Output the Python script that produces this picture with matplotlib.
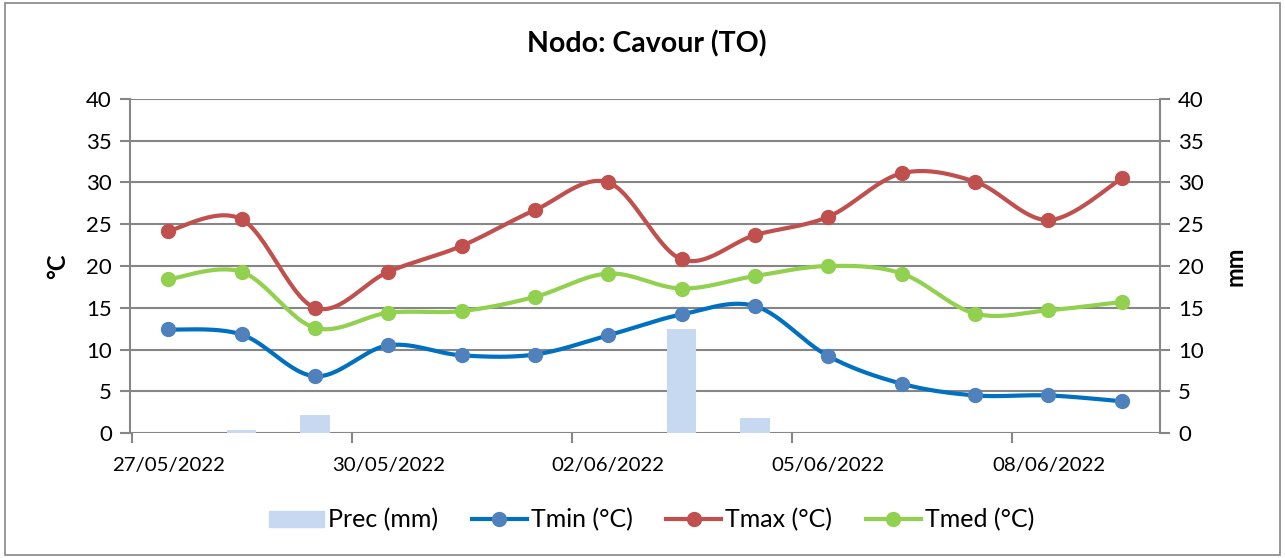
import numpy as np
import matplotlib
matplotlib.use('Agg')
import matplotlib.pyplot as plt
from matplotlib.patches import Rectangle
from matplotlib.lines import Line2D

plt.rcParams['font.family'] = ['Lato', 'DejaVu Sans']

dates = ['27/05/2022', '28/05/2022', '29/05/2022', '30/05/2022', '31/05/2022',
         '01/06/2022', '02/06/2022', '03/06/2022', '04/06/2022', '05/06/2022',
         '06/06/2022', '07/06/2022', '08/06/2022', '09/06/2022']
prec = [0, 0.4, 2.2, 0, 0, 0, 0, 12.4, 1.8, 0, 0, 0, 0, 0]
tmin = [12.4, 11.8, 6.8, 10.5, 9.3, 9.4, 11.7, 14.2, 15.2, 9.2, 5.9, 4.5, 4.5, 3.8]
tmax = [24.2, 25.6, 15.0, 19.3, 22.4, 26.7, 30.0, 20.8, 23.7, 25.9, 31.1, 30.1, 25.5, 30.5]
tmed = [18.4, 19.3, 12.6, 14.4, 14.6, 16.3, 19.1, 17.3, 18.8, 20.0, 19.1, 14.3, 14.7, 15.7]

grey = '#868686'


def smooth(x, y, n=30):
    # Bezier smoothing like the spreadsheet's "smoothed line"
    x = np.asarray(x, float)
    y = np.asarray(y, float)
    px = np.concatenate([[x[0]], x, [x[-1]]])
    py = np.concatenate([[y[0]], y, [y[-1]]])
    t = np.linspace(0, 1, n)[:, None]
    xs, ys = [], []
    for i in range(1, len(x)):
        p0 = np.array([px[i], py[i]])
        p3 = np.array([px[i + 1], py[i + 1]])
        c1 = p0 + (p3 - np.array([px[i - 1], py[i - 1]])) / 6
        c2 = p3 - (np.array([px[i + 2], py[i + 2]]) - p0) / 6
        b = ((1 - t) ** 3) * p0 + 3 * ((1 - t) ** 2) * t * c1 + 3 * (1 - t) * t ** 2 * c2 + t ** 3 * p3
        xs.append(b[:, 0])
        ys.append(b[:, 1])
    return np.concatenate(xs), np.concatenate(ys)


fig = plt.figure(figsize=(12.85, 5.58), dpi=100)
ax = fig.add_axes([0.1012, 0.224, 0.8015, 0.5986])
ax2 = ax.twinx()
ax.set_zorder(ax2.get_zorder() + 1)
ax.patch.set_visible(False)

x = np.arange(len(dates))

ax2.bar(x, prec, width=0.4, color='#C6D9F1', zorder=2)
ax2.set_axisbelow(True)
ax2.yaxis.grid(True, color=grey, linewidth=1.5)

series = [(tmin, '#0070C0', '#4F81BD', 'Tmin (°C)'),
          (tmax, '#C0504D', '#C0504D', 'Tmax (°C)'),
          (tmed, '#92D050', '#92D050', 'Tmed (°C)')]
handles = [Rectangle((0, 0), 1, 1, color='#C6D9F1', label='Prec (mm)')]
for vals, lc, mc, name in series:
    sx, sy = smooth(x, vals)
    ax.plot(sx, sy, color=lc, linewidth=3, solid_capstyle='round', zorder=3)
    ax.plot(x, vals, linestyle='none', marker='o', markersize=10,
            markerfacecolor=mc, markeredgecolor=mc, zorder=4)
    handles.append(Line2D([0], [0], color=lc, linewidth=3, marker='o', markersize=10,
                          markerfacecolor=mc, markeredgecolor=mc, label=name))

for a in (ax, ax2):
    a.set_ylim(0, 40)
    a.set_xlim(-0.52, len(dates) - 0.48)
    a.set_yticks(range(0, 41, 5))
    for s in a.spines.values():
        s.set_visible(False)
    a.tick_params(axis='y', length=7, width=1.5, color=grey, labelsize=16, pad=6)

ax.spines['left'].set_visible(True)
ax.spines['left'].set_color(grey)
ax.spines['left'].set_linewidth(1.5)
ax.spines['left'].set_bounds(0, 40)
ax2.spines['right'].set_visible(True)
ax2.spines['right'].set_color(grey)
ax2.spines['right'].set_linewidth(1.5)
ax2.spines['right'].set_bounds(0, 40)

ax.set_xticks(x[::3])
ax.set_xticklabels([dates[i] for i in x[::3]])
ax.set_xticks(np.arange(-0.5, len(dates), 3), minor=True)
ax.tick_params(axis='x', which='major', length=0, labelsize=14.7, pad=17)
ax.tick_params(axis='x', which='minor', length=7, width=1.5, color=grey)

ax.set_ylabel('°C', fontsize=17, fontweight='bold', labelpad=12)
ax2.set_ylabel('mm', fontsize=17, fontweight='bold', labelpad=14)

fig.suptitle('Nodo: Cavour (TO)', fontsize=20.5, fontweight='bold', x=0.503, y=0.945)

fig.legend(handles=handles, loc='center', bbox_to_anchor=(0.507, 0.068), ncol=4,
           frameon=False, fontsize=18, handlelength=2.2, columnspacing=1.35,
           handletextpad=0.16, handleheight=0.6)

fig.patches.append(Rectangle((0.004, 0.006), 0.992, 0.988, transform=fig.transFigure,
                             fill=False, edgecolor=grey, linewidth=1.2))

fig.savefig('out.png', dpi=100)
